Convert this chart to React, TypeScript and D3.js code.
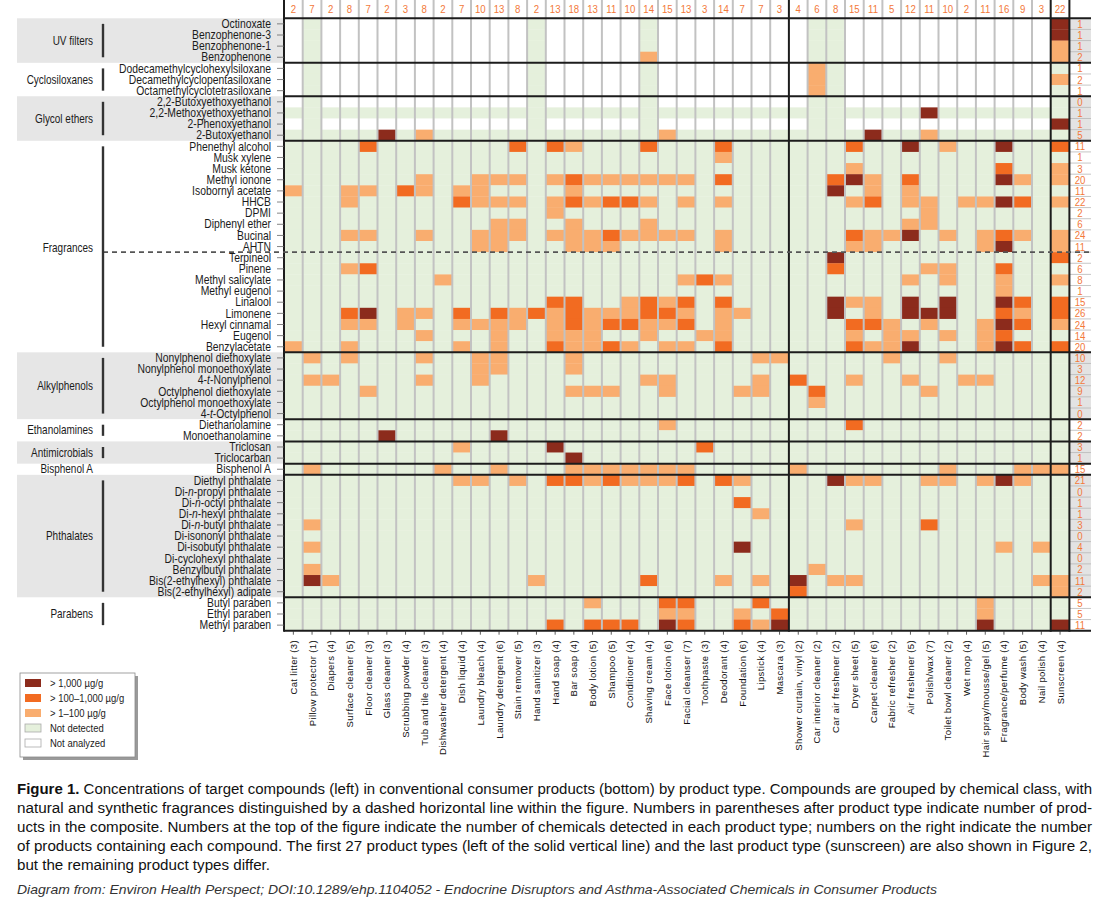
import React from 'react'
import * as d3 from 'd3'

// product types along the bottom (number of products in the composite)
const products = [
  'Cat litter (3)', 'Pillow protector (1)', 'Diapers (4)', 'Surface cleaner (5)', 'Floor cleaner (3)',
  'Glass cleaner (3)', 'Scrubbing powder (4)', 'Tub and tile cleaner (3)', 'Dishwasher detergent (4)',
  'Dish liquid (4)', 'Laundry bleach (4)', 'Laundry detergent (6)', 'Stain remover (5)', 'Hand sanitizer (3)',
  'Hand soap (4)', 'Bar soap (4)', 'Body lotion (5)', 'Shampoo (5)', 'Conditioner (4)', 'Shaving cream (4)',
  'Face lotion (6)', 'Facial cleanser (7)', 'Toothpaste (3)', 'Deodorant (4)', 'Foundation (6)', 'Lipstick (4)',
  'Mascara (3)', 'Shower curtain, vinyl (2)', 'Car interior cleaner (2)', 'Car air freshener (2)',
  'Dryer sheet (5)', 'Carpet cleaner (6)', 'Fabric refresher (2)', 'Air freshener (5)', 'Polish/wax (7)',
  'Toilet bowl cleaner (2)', 'Wet mop (4)', 'Hair spray/mousse/gel (5)', 'Fragrance/perfume (4)',
  'Body wash (5)', 'Nail polish (4)', 'Sunscreen (4)',
]

// numbers at the top: chemicals detected per product type
const detectedCounts = [
  2, 7, 2, 8, 7, 2, 3, 8, 2, 7, 10, 13, 8, 2, 13, 18, 13, 11, 10, 14, 15, 13, 3, 14, 7, 7, 3,
  4, 6, 8, 15, 11, 5, 12, 11, 10, 2, 11, 16, 9, 3, 22,
]

// compounds (rows); {x} = italic
const compounds = [
  'Octinoxate', 'Benzophenone-3', 'Benzophenone-1', 'Benzophenone',
  'Dodecamethylcyclohexylsiloxane', 'Decamethylcyclopentasiloxane', 'Octamethylcyclotetrasiloxane',
  '2,2-Butoxyethoxyethanol', '2,2-Methoxyethoxyethanol', '2-Phenoxyethanol', '2-Butoxyethanol',
  'Phenethyl alcohol', 'Musk xylene', 'Musk ketone', 'Methyl ionone', 'Isobornyl acetate', 'HHCB', 'DPMI',
  'Diphenyl ether', 'Bucinal', 'AHTN', 'Terpineol', 'Pinene', 'Methyl salicylate', 'Methyl eugenol',
  'Linalool', 'Limonene', 'Hexyl cinnamal', 'Eugenol', 'Benzylacetate',
  'Nonylphenol diethoxylate', 'Nonylphenol monoethoxylate', '4-{t}-Nonylphenol', 'Octylphenol diethoxylate',
  'Octylphenol monoethoxylate', '4-{t}-Octylphenol',
  'Diethanolamine', 'Monoethanolamine',
  'Triclosan', 'Triclocarban',
  'Bisphenol A',
  'Diethyl phthalate', 'Di-{n}-propyl phthalate', 'Di-{n}-octyl phthalate', 'Di-{n}-hexyl phthalate',
  'Di-{n}-butyl phthalate', 'Di-isononyl phthalate', 'Di-isobutyl phthalate', 'Di-cyclohexyl phthalate',
  'Benzylbutyl phthalate', 'Bis(2-ethylhexyl) phthalate', 'Bis(2-ethylhexyl) adipate',
  'Butyl paraben', 'Ethyl paraben', 'Methyl paraben',
]

// numbers on the right: products containing each compound
const productCounts = [
  1, 1, 1, 2, 1, 2, 1, 0, 1, 1, 5, 11, 1, 3, 20, 11, 22, 2, 6, 24, 11, 2, 6, 8, 1, 15, 26, 24, 14, 20,
  10, 3, 12, 9, 1, 0, 2, 2, 3, 1, 15, 21, 0, 1, 1, 3, 0, 4, 0, 2, 11, 2, 5, 5, 11,
]

const groupNames = ['UV filters', 'Cyclosiloxanes', 'Glycol ethers', 'Fragrances', 'Alkylphenols',
  'Ethanolamines', 'Antimicrobials', 'Bisphenol A', 'Phthalates', 'Parabens']
const groupSizes = [4, 3, 4, 19, 6, 2, 2, 1, 11, 3]
const groupShaded = [true, false, true, false, true, false, true, false, true, false]

// rows only analyzed in a few product types
const notAnalyzedRows = [0, 1, 2, 3, 4, 5, 6, 7, 9]
const analyzedCols = [1, 13, 19, 28, 29, 41]

// per compound: [product index, level] with 1 = >1-100, 2 = >100-1,000, 3 = >1,000 ug/g
const detections: [number, number][][] = [
  [[41, 3]],
  [[41, 3]],
  [[41, 1]],
  [[19, 1], [41, 1]],
  [[28, 1]],
  [[28, 1], [41, 1]],
  [[28, 1]],
  [],
  [[34, 3]],
  [[41, 3]],
  [[5, 3], [7, 1], [20, 1], [31, 3], [34, 1]],
  [[4, 2], [12, 2], [14, 2], [15, 1], [19, 2], [23, 2], [30, 2], [33, 3], [35, 1], [38, 3], [41, 2]],
  [[23, 1]],
  [[30, 1], [38, 2], [41, 1]],
  [[7, 1], [10, 1], [11, 1], [12, 1], [14, 1], [15, 2], [16, 1], [17, 1], [18, 1], [19, 1], [20, 1], [21, 1],
    [23, 2], [29, 2], [30, 3], [31, 1], [33, 2], [38, 3], [39, 1], [41, 1]],
  [[0, 1], [3, 1], [4, 1], [6, 2], [7, 1], [9, 1], [10, 1], [15, 1], [29, 3], [31, 1], [33, 1]],
  [[3, 1], [9, 2], [10, 1], [11, 1], [12, 1], [14, 1], [15, 2], [16, 1], [17, 2], [18, 2], [19, 1], [21, 1],
    [23, 1], [30, 1], [31, 2], [33, 1], [34, 1], [36, 1], [37, 1], [38, 3], [39, 2], [41, 1]],
  [[14, 1], [34, 1]],
  [[11, 1], [12, 1], [15, 1], [19, 1], [33, 1], [34, 1]],
  [[3, 1], [4, 1], [7, 1], [10, 1], [11, 1], [12, 1], [14, 1], [15, 1], [16, 1], [17, 2], [18, 1], [19, 1],
    [20, 1], [21, 1], [23, 1], [30, 2], [31, 1], [32, 1], [33, 3], [35, 1], [37, 1], [38, 2], [39, 1], [41, 1]],
  [[10, 1], [11, 1], [15, 1], [16, 1], [17, 1], [23, 1], [30, 1], [31, 1], [37, 1], [38, 3], [41, 1]],
  [[29, 3], [41, 2]],
  [[3, 1], [4, 2], [29, 2], [34, 1], [35, 1], [38, 2]],
  [[8, 1], [21, 1], [22, 2], [23, 1], [33, 1], [35, 1], [38, 1], [41, 1]],
  [[38, 1]],
  [[14, 2], [15, 2], [18, 1], [19, 2], [20, 1], [21, 2], [23, 2], [29, 3], [30, 1], [31, 1], [33, 3], [35, 3],
    [38, 3], [39, 2], [41, 2]],
  [[3, 2], [4, 3], [6, 1], [7, 1], [9, 2], [11, 2], [12, 1], [13, 2], [14, 1], [15, 2], [16, 1], [17, 1],
    [18, 1], [19, 2], [20, 2], [21, 1], [23, 1], [24, 1], [29, 3], [31, 1], [33, 3], [34, 3], [35, 3], [38, 2],
    [39, 1], [41, 2]],
  [[3, 1], [4, 1], [6, 1], [9, 1], [10, 1], [11, 1], [12, 1], [14, 1], [15, 2], [16, 1], [17, 2], [18, 2],
    [19, 1], [20, 1], [21, 2], [23, 1], [30, 2], [31, 2], [32, 1], [34, 1], [37, 1], [38, 3], [39, 2], [41, 1]],
  [[7, 1], [11, 1], [14, 1], [15, 1], [16, 1], [19, 1], [22, 1], [23, 1], [30, 1], [32, 1], [33, 1], [35, 1],
    [37, 1], [38, 2]],
  [[0, 1], [3, 1], [9, 1], [11, 1], [14, 2], [15, 1], [16, 1], [17, 2], [18, 1], [20, 1], [21, 1], [23, 2],
    [30, 2], [31, 1], [32, 1], [33, 3], [37, 1], [38, 3], [39, 2], [41, 2]],
  [[1, 1], [3, 1], [7, 1], [10, 1], [11, 1], [15, 1], [25, 1], [26, 1], [32, 1], [35, 1]],
  [[10, 1], [11, 1], [15, 1]],
  [[1, 1], [2, 1], [7, 1], [10, 1], [19, 1], [20, 1], [25, 1], [27, 2], [30, 1], [33, 1], [36, 1], [37, 1]],
  [[4, 1], [15, 1], [16, 1], [17, 1], [20, 1], [24, 1], [25, 1], [28, 2], [34, 1]],
  [[28, 1]],
  [],
  [[20, 1], [30, 2]],
  [[5, 3], [11, 3]],
  [[9, 1], [14, 3], [22, 2]],
  [[15, 3]],
  [[1, 1], [8, 1], [11, 1], [15, 1], [16, 1], [17, 1], [18, 1], [19, 1], [20, 1], [21, 1], [27, 1], [35, 1],
    [39, 1], [40, 1], [41, 1]],
  [[9, 1], [10, 1], [12, 1], [14, 2], [15, 2], [16, 1], [17, 2], [18, 1], [19, 1], [20, 1], [21, 2], [23, 2],
    [24, 1], [29, 3], [30, 1], [31, 1], [34, 1], [35, 1], [37, 1], [38, 3], [39, 1]],
  [],
  [[24, 2]],
  [[25, 1]],
  [[1, 1], [30, 1], [34, 2]],
  [],
  [[1, 1], [24, 3], [38, 1], [40, 1]],
  [],
  [[1, 1], [28, 1]],
  [[1, 3], [2, 1], [13, 1], [19, 2], [23, 1], [25, 1], [27, 3], [29, 1], [30, 1], [40, 1], [41, 1]],
  [[27, 2], [41, 1]],
  [[16, 1], [20, 2], [21, 2], [25, 2], [37, 1]],
  [[20, 1], [21, 1], [24, 1], [26, 2], [37, 1]],
  [[14, 2], [16, 2], [17, 2], [18, 2], [20, 3], [21, 2], [24, 2], [25, 1], [26, 3], [37, 3], [41, 3]],
]

const legendLabels = ['> 1,000 µg/g', '> 100–1,000 µg/g', '> 1–100 µg/g', 'Not detected', 'Not analyzed']

const captionLines = [
  'Concentrations of target compounds (left) in conventional consumer products (bottom) by product type. Compounds are grouped by chemical class, with',
  'natural and synthetic fragrances distinguished by a dashed horizontal line within the figure. Numbers in parentheses after product type indicate number of prod-',
  'ucts in the composite. Numbers at the top of the figure indicate the number of chemicals detected in each product type; numbers on the right indicate the number',
  'of products containing each compound. The first 27 product types (left of the solid vertical line) and the last product type (sunscreen) are also shown in Figure 2,',
  'but the remaining product types differ.',
]
const footer = 'Diagram from: Environ Health Perspect; DOI:10.1289/ehp.1104052 - Endocrine Disruptors and Asthma-Associated Chemicals in Consumer Products'

const FONT = "'Liberation Sans', Arial, Helvetica, sans-serif"
const levelColor = ['#e5f0dc', '#f9ad6f', '#f26b21', '#8c2b1c']
const NA_COLOR = '#ffffff'
const NUM_COLOR = '#f3793a'

const W = 1102
const H = 899
const gridLeft = 284
const gridRight = 1069.4
const gridTop = 18.3
const gridBottom = 630.7
const rightColEnd = 1091

function richText(label: string) {
  return label.split(/[{}]/).map((part, i) => (
    <tspan key={i} fontStyle={i % 2 ? 'italic' : 'normal'}>{part}</tspan>
  ))
}

export default function App() {
  const x = d3.scaleBand<number>().domain(d3.range(products.length)).range([gridLeft, gridRight])
  const y = d3.scaleBand<number>().domain(d3.range(compounds.length)).range([gridTop, gridBottom])
  const cw = x.bandwidth()
  const rh = y.bandwidth()

  const groupEnds = Array.from(d3.cumsum(groupSizes))
  const groupStarts = groupEnds.map((e, i) => e - groupSizes[i])

  const cells: { r: number; c: number; fill: string }[] = []
  compounds.forEach((_, r) => {
    const levels = new Map(detections[r])
    products.forEach((__, c) => {
      let fill = levelColor[levels.get(c) || 0]
      if (notAnalyzedRows.includes(r) && !analyzedCols.includes(c)) fill = NA_COLOR
      cells.push({ r, c, fill })
    })
  })

  const blackCols = [0, 27, 41, products.length]
  const dashY = y(21)!

  return (
    <svg width={W} height={H} style={{ position: 'absolute', left: 0, top: 0, background: '#fff' }}
      fontFamily={FONT}>
      <rect width={W} height={H} fill="#fff" />

      {/* shaded group bands */}
      {groupNames.map((g, i) => groupShaded[i] && (
        <g key={g}>
          <rect x={17} y={y(groupStarts[i])} width={gridLeft - 17} height={groupSizes[i] * rh} fill="#e6e6e6" />
          <rect x={gridRight} y={y(groupStarts[i])} width={rightColEnd - gridRight} height={groupSizes[i] * rh} fill="#e3e3e3" />
        </g>
      ))}

      {/* cells */}
      {cells.map(d => (
        <rect key={`${d.r}-${d.c}`} x={x(d.c)} y={y(d.r)} width={cw + 0.2} height={rh + 0.3} fill={d.fill} />
      ))}

      {/* column dividers */}
      {d3.range(1, products.length).filter(c => !blackCols.includes(c)).map(c => (
        <line key={c} x1={x(c)} x2={x(c)} y1={0} y2={gridBottom} stroke="#c2c2c2" strokeWidth={2} />
      ))}

      {/* right column row separators */}
      {compounds.map((_, r) => (
        <line key={r} x1={gridRight} x2={rightColEnd} y1={y(r)! + rh} y2={y(r)! + rh} stroke="#b8b8b8" strokeWidth={0.8} />
      ))}

      {/* group boundaries */}
      {[0, ...groupEnds].map(e => (
        <line key={e} x1={gridLeft} x2={rightColEnd} y1={y(0)! + e * rh} y2={y(0)! + e * rh} stroke="#1c1c1c" strokeWidth={2} />
      ))}
      {blackCols.map(c => {
        const xx = c === products.length ? gridRight : x(c)!
        return <line key={c} x1={xx} x2={xx} y1={0} y2={gridBottom + 1} stroke="#1c1c1c" strokeWidth={2} />
      })}

      {/* natural / synthetic fragrance divider */}
      <line x1={103} x2={rightColEnd} y1={dashY} y2={dashY} stroke="#555" strokeWidth={1.6} strokeDasharray="5,4" />

      {/* top counts */}
      {detectedCounts.map((n, c) => (
        <text key={c} transform={`translate(${x(c)! + cw / 2},12.5) scale(0.84,1)`} textAnchor="middle"
          fontSize={11.5} fill={NUM_COLOR}>{n}</text>
      ))}

      {/* right counts */}
      {productCounts.map((n, r) => (
        <text key={r} transform={`translate(1080,${y(r)! + rh / 2 + 4}) scale(0.84,1)`} textAnchor="middle"
          fontSize={11.5} fill={NUM_COLOR}>{n}</text>
      ))}

      {/* compound labels + ticks */}
      {compounds.map((name, r) => {
        const cy = y(r)! + rh / 2
        return (
          <g key={name}>
            <line x1={277} x2={gridLeft} y1={cy} y2={cy} stroke="#666" strokeWidth={0.8} />
            <text transform={`translate(271,${cy + 4.2}) scale(0.83,1)`} textAnchor="end" fontSize={12.5} fill="#1b1b1b">
              {richText(name)}
            </text>
          </g>
        )
      })}

      {/* group labels and brackets */}
      {groupNames.map((g, i) => {
        const top = y(groupStarts[i])!
        const bottom = top + groupSizes[i] * rh
        const mid = g === 'Fragrances' ? dashY - 4 : (top + bottom) / 2
        return (
          <g key={g}>
            <text transform={`translate(93,${mid + 4}) scale(0.83,1)`} textAnchor="end" fontSize={12} fill="#1b1b1b">{g}</text>
            {groupSizes[i] > 1 && (
              <line x1={103} x2={103} y1={top + rh / 2} y2={bottom - rh / 2} stroke="#333" strokeWidth={2.4} />
            )}
          </g>
        )
      })}

      {/* bottom ticks and product labels */}
      {products.map((p, c) => {
        const cx = x(c)! + cw / 2
        return (
          <g key={p}>
            <line x1={cx} x2={cx} y1={gridBottom} y2={gridBottom + 4} stroke="#333" strokeWidth={0.8} />
            <text transform={`translate(${cx + 3.5},640) rotate(-90)`} textAnchor="end" fontSize={9.5}
              letterSpacing={0.35} fill="#111">{p}</text>
          </g>
        )
      })}

      {/* legend */}
      <g>
        <rect x={23} y={676} width={115} height={84} fill="#9a9a9a" />
        <rect x={20} y={673} width={115} height={84} fill="#fff" stroke="#8a8a8a" strokeWidth={0.8} />
        {legendLabels.map((l, i) => {
          const fill = i < 3 ? levelColor[3 - i] : i === 3 ? levelColor[0] : NA_COLOR
          const cy = 683 + i * 15
          return (
            <g key={l}>
              <rect x={25} y={cy - 4} width={16} height={8} fill={fill} stroke={i >= 3 ? '#aaa' : 'none'} strokeWidth={0.8} />
              <text transform={`translate(50,${cy + 3.5}) scale(0.84,1)`} fontSize={11.3} fill="#1b1b1b">{l}</text>
            </g>
          )
        })}
      </g>

      {/* caption */}
      {captionLines.map((line, i) => (
        <text key={i} x={17} y={794 + i * 19} fontSize={14} fill="#111"
          textLength={i < 4 ? 1075 : 253} lengthAdjust="spacingAndGlyphs">
          {i === 0 && <tspan fontWeight="bold">Figure 1. </tspan>}
          {line}
        </text>
      ))}
      <text x={17} y={894} fontSize={13} fontStyle="italic" fill="#333" textLength={920} lengthAdjust="spacingAndGlyphs">
        {footer}
      </text>
    </svg>
  )
}
